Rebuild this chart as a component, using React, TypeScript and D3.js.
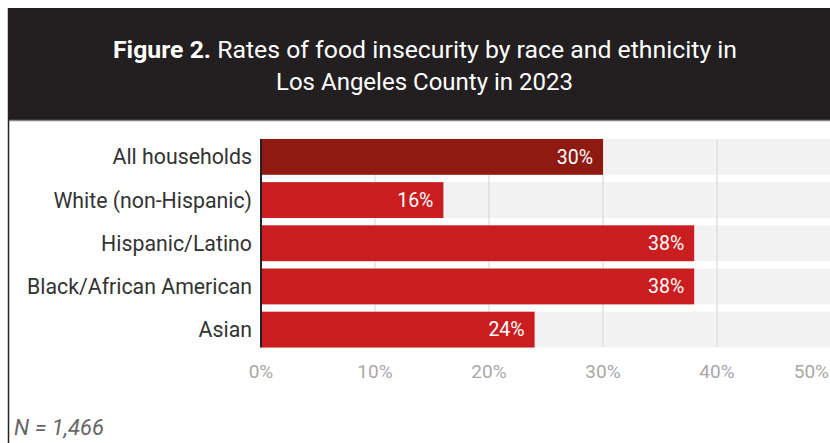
import React from "react";
import * as d3 from "d3";

const categories = ["All households", "White (non-Hispanic)", "Hispanic/Latino", "Black/African American", "Asian"];
const values = [30, 16, 38, 38, 24];
const barColors = ["#8e1a12", "#c91d1f", "#c91d1f", "#c91d1f", "#c91d1f"];
const ticks = [0, 10, 20, 30, 40, 50];

const W = 830, H = 443;

export default function App() {
  const x = d3.scaleLinear().domain([0, 50]).range([261, 831]);
  const y = d3.scaleBand<string>().domain(categories).range([135.5, 351]).paddingInner(0.17).paddingOuter(0.08);
  const font = "Roboto, sans-serif";
  return (
    <svg width={W} height={H} style={{ position: "absolute", left: 0, top: 0, display: "block" }}>
      <rect x={0} y={0} width={W} height={H} fill="#fff" />
      <rect x={8} y={8} width={W - 8} height={112} fill="#231f20" />
      <line x1={8} x2={W} y1={120.5} y2={120.5} stroke="#888" strokeWidth={1.5} />
      <line x1={8.5} x2={8.5} y1={8} y2={H} stroke="#222" strokeWidth={1.5} />
      <text x={113} y={58} fill="#fff" fontFamily={font} fontSize={23} textLength={624} lengthAdjust="spacingAndGlyphs">
        <tspan fontWeight={700}>Figure 2.</tspan>
        <tspan> Rates of food insecurity by race and ethnicity in</tspan>
      </text>
      <text x={276} y={90} fill="#fff" fontFamily={font} fontSize={23} textLength={297} lengthAdjust="spacingAndGlyphs">
        Los Angeles County in 2023
      </text>
      {categories.map((c) => (
        <rect key={"bg" + c} x={x(0)} y={y(c)!} width={W - x(0)} height={y.bandwidth()} fill="#f2f2f2" />
      ))}
      {ticks.filter((t) => t > 0).map((t) => (
        <line key={"g" + t} x1={x(t)} x2={x(t)} y1={y(categories[0])!} y2={y(categories[4])! + y.bandwidth()} stroke="#dadada" strokeWidth={1.2} />
      ))}
      {categories.map((c, i) => (
        <g key={c}>
          <rect x={x(0)} y={y(c)!} width={x(values[i]) - x(0)} height={y.bandwidth()} fill={barColors[i]} />
          <text x={252} y={y(c)! + y.bandwidth() / 2} dy="0.35em" textAnchor="end" fill="#333" fontFamily={font} fontSize={21.3}>
            {c}
          </text>
          <text x={x(values[i]) - 10} y={y(c)! + y.bandwidth() / 2} dy="0.35em" textAnchor="end" fill="#fff" fontFamily={font} fontSize={19.5}>
            {values[i] + "%"}
          </text>
        </g>
      ))}
      <line x1={x(0)} x2={x(0)} y1={y(categories[0])!} y2={y(categories[4])! + y.bandwidth()} stroke="#222" strokeWidth={2} />
      {ticks.map((t, i) => {
        const last = i === ticks.length - 1;
        return (
          <text key={"t" + t} x={last ? 829 : x(t)} y={378} textAnchor={last ? "end" : "middle"} fill="#a8a8a8" fontFamily={font} fontSize={19}>
            {t + "%"}
          </text>
        );
      })}
      <text x={14} y={435} fill="#666" fontFamily={font} fontStyle="italic" fontSize={22}>
        N = 1,466
      </text>
    </svg>
  );
}
